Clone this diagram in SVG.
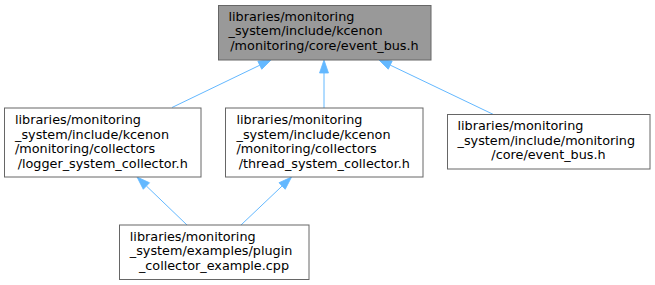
<svg xmlns="http://www.w3.org/2000/svg" width="655" height="285" viewBox="0 0 655 285">
  <style>
    .box { fill: #ffffff; stroke: #666666; stroke-width: 1; }
    .box.hl { fill: #999999; }
    .lbl { font-family: "DejaVu Sans", "Liberation Sans", sans-serif; font-size: 12.8px; fill: #000000; }
    .lbl .c { text-anchor: middle; }
    .edge { fill: none; stroke: #63b8ff; stroke-width: 1; }
  </style>
  <defs>
    <!-- filled include-arrow, drawn from its base (refX=0) towards the tip -->
    <marker id="arrow" markerUnits="userSpaceOnUse" markerWidth="15" markerHeight="11" refX="0" refY="4.5" orient="auto" viewBox="-1 -1 15 11">
      <path d="M0,0 L13,4.5 L0,9 z" fill="#63b8ff" stroke="#63b8ff" stroke-width="0.8"/>
    </marker>
  </defs>
  <rect width="655" height="285" fill="#ffffff"/>

  <g id="edges">
    <line class="edge" x1="172" y1="107.5" x2="259.8" y2="65.2" marker-end="url(#arrow)"/>
    <line class="edge" x1="324" y1="108" x2="324" y2="73" marker-end="url(#arrow)"/>
    <line class="edge" x1="493.5" y1="114.5" x2="390.2" y2="65.1" marker-end="url(#arrow)"/>
    <line class="edge" x1="187" y1="225" x2="146.4" y2="186" marker-end="url(#arrow)"/>
    <line class="edge" x1="241" y1="225" x2="282.1" y2="186" marker-end="url(#arrow)"/>
  </g>

  <g id="node-event-bus-kcenon">
    <rect class="box hl" x="218.5" y="5.5" width="212.5" height="54.5"/>
    <text class="lbl">
      <tspan x="228.5" y="20.5">libraries/monitoring</tspan>
      <tspan x="228.5" y="35.2">_system/include/kcenon</tspan>
      <tspan class="c" x="324.5" y="49.8">/monitoring/core/event_bus.h</tspan>
    </text>
  </g>

  <g id="node-logger-collector">
    <rect class="box" x="4.5" y="108" width="196.5" height="69"/>
    <text class="lbl">
      <tspan x="15" y="124">libraries/monitoring</tspan>
      <tspan x="15" y="138.7">_system/include/kcenon</tspan>
      <tspan x="15" y="153.3">/monitoring/collectors</tspan>
      <tspan class="c" x="102.7" y="168">/logger_system_collector.h</tspan>
    </text>
  </g>

  <g id="node-thread-collector">
    <rect class="box" x="225.5" y="108" width="197.5" height="69"/>
    <text class="lbl">
      <tspan x="236.5" y="124">libraries/monitoring</tspan>
      <tspan x="236.5" y="138.7">_system/include/kcenon</tspan>
      <tspan x="236.5" y="153.3">/monitoring/collectors</tspan>
      <tspan class="c" x="324.3" y="168">/thread_system_collector.h</tspan>
    </text>
  </g>

  <g id="node-event-bus">
    <rect class="box" x="447.5" y="114.5" width="202.5" height="54.5"/>
    <text class="lbl">
      <tspan x="457.5" y="130">libraries/monitoring</tspan>
      <tspan x="457.5" y="144.7">_system/include/monitoring</tspan>
      <tspan class="c" x="548.5" y="159.3">/core/event_bus.h</tspan>
    </text>
  </g>

  <g id="node-plugin-example">
    <rect class="box" x="119.5" y="225" width="189.5" height="54.5"/>
    <text class="lbl">
      <tspan x="129.8" y="240.5">libraries/monitoring</tspan>
      <tspan x="129.8" y="255.2">_system/examples/plugin</tspan>
      <tspan class="c" x="214" y="269.8">_collector_example.cpp</tspan>
    </text>
  </g>
</svg>
